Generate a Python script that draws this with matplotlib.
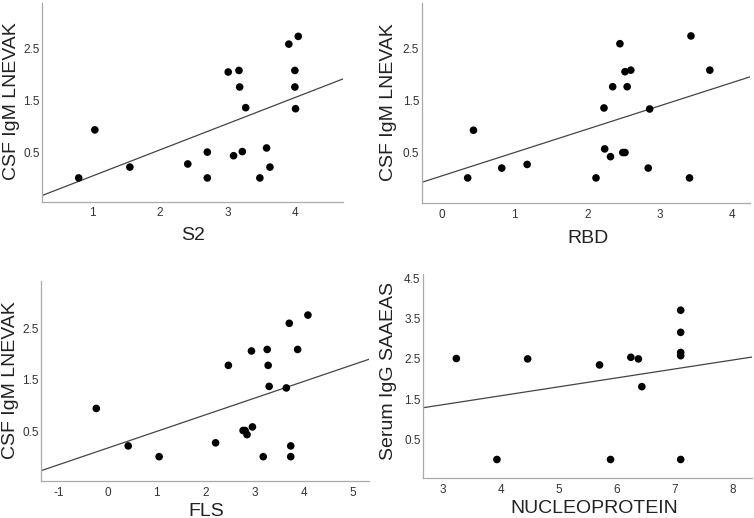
import matplotlib.pyplot as plt
import numpy as np

plt.rcParams["font.family"] = ["Liberation Sans", "DejaVu Sans"]

# S2 vs CSF IgM LNEVAK
s2_x = [0.79, 1.03, 1.55, 2.41, 2.70, 2.70, 3.01, 3.09, 3.17, 3.18,
        3.22, 3.27, 3.48, 3.58, 3.63, 3.91, 4.00, 4.00, 4.01, 4.05]
s2_y = [0.0, 0.93, 0.21, 0.27, 0.50, 0.0, 2.05, 0.43, 2.08, 1.76,
        0.51, 1.36, 0.0, 0.58, 0.21, 2.59, 2.08, 1.76, 1.34, 2.74]

# RBD vs CSF IgM LNEVAK
rbd_x = [0.35, 0.43, 0.82, 1.17, 2.12, 2.23, 2.24, 2.32, 2.35, 2.45,
         2.49, 2.52, 2.52, 2.55, 2.60, 2.84, 2.86, 3.41, 3.43, 3.69]
rbd_y = [0.0, 0.92, 0.19, 0.26, 0.0, 1.35, 0.56, 0.41, 1.76, 2.59,
         0.49, 0.49, 2.05, 1.76, 2.08, 0.19, 1.33, 0.0, 2.74, 2.08]

# FLS vs CSF IgM LNEVAK
fls_x = [-0.23, 0.42, 1.05, 2.20, 2.46, 2.76, 2.80, 2.84, 2.93, 2.95,
         3.17, 3.25, 3.27, 3.29, 3.64, 3.70, 3.73, 3.73, 3.87, 4.08]
fls_y = [0.94, 0.21, 0.0, 0.27, 1.78, 0.51, 0.51, 0.43, 2.06, 0.58,
         0.0, 2.09, 1.78, 1.37, 1.34, 2.60, 0.21, 0.0, 2.09, 2.76]

# NUCLEOPROTEIN vs Serum IgG SAAEAS
np_x = [3.23, 3.93, 4.46, 5.70, 5.89, 6.24, 6.37, 6.43, 7.10, 7.10,
        7.10, 7.10, 7.10]
np_y = [2.51, 0.0, 2.50, 2.35, 0.0, 2.54, 2.50, 1.81, 3.71, 3.16,
        2.66, 2.58, 0.0]

# axes box in pixels (left, top, right, bottom) and label anchors in pixels
panels = [
    dict(x=s2_x, y=s2_y, xlabel="S2", ylabel="CSF IgM LNEVAK",
         xlim=(0.25, 4.71), ylim=(-0.46, 3.38),
         xticks=[1, 2, 3, 4], yticks=[0.5, 1.5, 2.5],
         rect=[42.3, 3.3, 342.7, 201.7], xlab=(193, 239.5), ylab=(20, 101)),
    dict(x=rbd_x, y=rbd_y, xlabel="RBD", ylabel="CSF IgM LNEVAK",
         xlim=(-0.28, 4.24), ylim=(-0.49, 3.37),
         xticks=[0, 1, 2, 3, 4], yticks=[0.5, 1.5, 2.5],
         rect=[422.0, 3.3, 749.7, 203.3], xlab=(588, 243), ylab=(397, 102)),
    dict(x=fls_x, y=fls_y, xlabel="FLS", ylabel="CSF IgM LNEVAK",
         xlim=(-1.35, 5.33), ylim=(-0.48, 3.43),
         xticks=[-1, 0, 1, 2, 3, 4, 5], yticks=[0.5, 1.5, 2.5],
         rect=[41.3, 280.7, 369.3, 481.3], xlab=(206, 515.5), ylab=(19, 380)),
    dict(x=np_x, y=np_y, xlabel="NUCLEOPROTEIN", ylabel="Serum IgG SAAEAS",
         xlim=(2.66, 8.33), ylim=(-0.46, 4.61),
         xticks=[3, 4, 5, 6, 7, 8], yticks=[0.5, 1.5, 2.5, 3.5, 4.5],
         rect=[423.3, 274.0, 752.0, 478.0], xlab=(594, 513), ylab=(397, 371.5)),
]

W, H = 754, 518
fig = plt.figure(figsize=(W / 100, H / 100), dpi=100)

for p in panels:
    l, t, r, b = p["rect"]
    ax = fig.add_axes([l / W, 1 - b / H, (r - l) / W, (b - t) / H])
    x = np.array(p["x"])
    y = np.array(p["y"])
    ax.set_xlim(*p["xlim"])
    ax.set_ylim(*p["ylim"])

    # least-squares fit line across the full x range
    slope, intercept = np.polyfit(x, y, 1)
    xs = np.array(p["xlim"])
    ax.plot(xs, intercept + slope * xs, color="#444444", lw=0.9, zorder=2)
    ax.scatter(x, y, s=30, color="black", edgecolors="none", zorder=3)

    ax.set_xticks(p["xticks"])
    ax.set_yticks(p["yticks"])
    ax.set_xticklabels([str(v) for v in p["xticks"]])
    ax.set_yticklabels([str(v) for v in p["yticks"]])
    ax.tick_params(length=0, labelsize=8.5, colors="#333333")
    ax.tick_params(axis="x", pad=4)
    ax.tick_params(axis="y", pad=2)

    for side in ("top", "right"):
        ax.spines[side].set_visible(False)
    for side in ("left", "bottom"):
        ax.spines[side].set_color("#aaaaaa")
        ax.spines[side].set_linewidth(0.9)

    ax.set_xlabel(p["xlabel"], fontsize=14, color="#222222", va="baseline")
    ax.set_ylabel(p["ylabel"], fontsize=14, color="#222222")
    lx, ly = p["xlab"]
    ax.xaxis.set_label_coords(lx / W, 1 - ly / H, transform=fig.transFigure)
    yx, yy = p["ylab"]
    ax.yaxis.set_label_coords(yx / W, 1 - yy / H, transform=fig.transFigure)

fig.savefig("out.png", dpi=100)
